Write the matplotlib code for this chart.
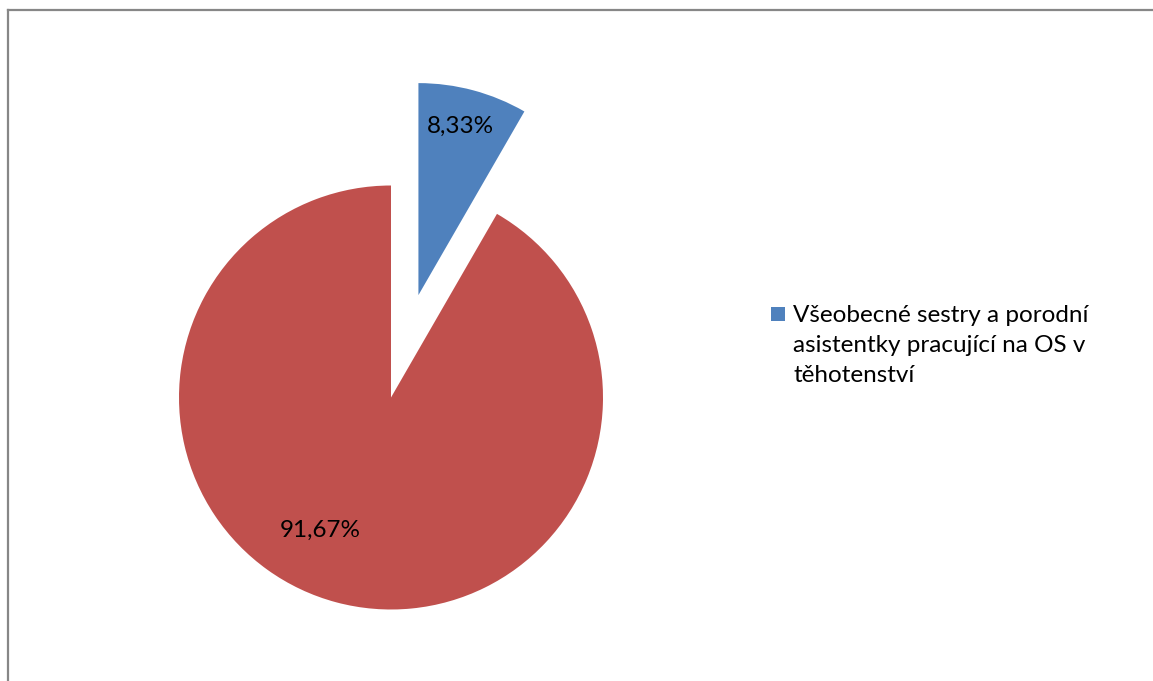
import numpy as np
import matplotlib.pyplot as plt
from matplotlib.lines import Line2D
from matplotlib.patches import Rectangle

# share of nurses / midwives working on sick leave during pregnancy
values = [8.33, 91.67]
value_labels = ["8,33%", "91,67%"]
legend_label = "Všeobecné sestry a porodní\nasistentky pracující na OS v\ntěhotenství"
colors = ["#4F81BD", "#C0504D"]

W, H = 1153, 681
R = 212.0          # pie radius in pixels
CX, CY = 391, 397.5  # pie centre in pixels from top-left

plt.rcParams['font.family'] = ['Lato', 'DejaVu Sans']


def main():
    fig = plt.figure(figsize=(W / 100, H / 100), dpi=100)
    ax = fig.add_axes([0, 0, 1, 1])

    wedges, _ = ax.pie(values, colors=colors, startangle=90, counterclock=False,
                       explode=[0.5, 0], radius=1,
                       wedgeprops=dict(linewidth=0))

    # value labels: (angle in degrees, distance from wedge centre)
    label_place = [(76, 0.82), (242, 0.71)]
    for w, txt, (ang, d) in zip(wedges, value_labels, label_place):
        cx, cy = w.center
        a = np.deg2rad(ang)
        ax.text(cx + d * np.cos(a), cy + d * np.sin(a), txt,
                ha='center', va='center', fontsize=17.5, color='black')

    ax.set_xlim(-CX / R, (W - CX) / R)
    ax.set_ylim(-(H - CY) / R, CY / R)
    ax.set_aspect('auto')
    ax.axis('off')

    # legend (only the first category is named)
    fig.patches.append(Rectangle((771 / W, 1 - 321 / H), 14 / W, 14 / H,
                                 transform=fig.transFigure,
                                 facecolor=colors[0], edgecolor='none'))
    fig.text(793 / W, 1 - 305 / H, legend_label, ha='left', va='top',
             fontsize=17.5, linespacing=1.53, color='black')

    # chart area border (top and left edges)
    border = dict(color='#878787', linewidth=1.6, transform=fig.transFigure)
    fig.add_artist(Line2D([7.5 / W, 1], [1 - 9.5 / H, 1 - 9.5 / H], **border))
    fig.add_artist(Line2D([7.5 / W, 7.5 / W], [0, 1 - 9.5 / H], **border))

    fig.savefig("out.png", dpi=100)


if __name__ == "__main__":
    main()
